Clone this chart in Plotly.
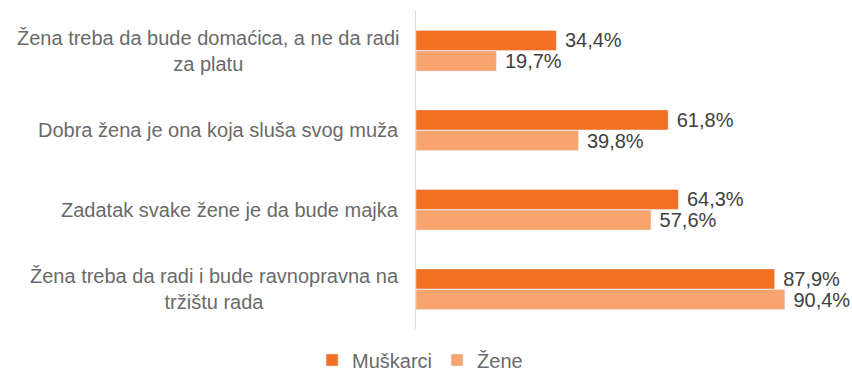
import plotly.graph_objects as go

categories = [
    "Žena treba da bude domaćica, a ne da radi<br>za platu",
    "Dobra žena je ona koja sluša svog muža",
    "Zadatak svake žene je da bude majka",
    "Žena treba da radi i bude ravnopravna na<br>tržištu rada",
]
cat_keys = ["c1", "c2", "c3", "c4"]
muskarci = [34.4, 61.8, 64.3, 87.9]
zene = [19.7, 39.8, 57.6, 90.4]

FONT = "Liberation Sans"
W, H = 852, 372
L, R, T, B = 416, 28, 11, 43

def pct(v):
    return "\u00a0" + f"{v:.1f}%".replace(".", ",")

fig = go.Figure()
fig.add_trace(go.Bar(
    name="Muškarci", y=cat_keys, x=muskarci, orientation="h",
    marker=dict(color="#F36F21"),
    text=[pct(v) for v in muskarci], textposition="outside",
    textfont=dict(family=FONT, size=20, color="#404040"),
    cliponaxis=False, constraintext="none",
))
fig.add_trace(go.Bar(
    name="Žene", y=cat_keys, x=zene, orientation="h",
    marker=dict(color="#F9A46F"),
    text=[pct(v) for v in zene], textposition="outside",
    textfont=dict(family=FONT, size=20, color="#404040"),
    cliponaxis=False, constraintext="none",
))

# category labels, centred within a right-anchored block
for key, label in zip(cat_keys, categories):
    fig.add_annotation(
        x=(401 - L) / (W - L - R), xref="paper", xanchor="right",
        y=key, yref="y", yanchor="middle",
        text=label, showarrow=False, align="center",
        font=dict(family=FONT, size=20, color="#6A6A6A"),
    )

fig.update_layout(
    width=W, height=H,
    margin=dict(l=L, r=R, t=T, b=B),
    paper_bgcolor="white", plot_bgcolor="white",
    barmode="group", bargap=0.48, bargroupgap=0.03,
    showlegend=True,
    legend=dict(
        orientation="h", xref="container", yref="container",
        x=0.493, xanchor="center", y=1 - 360 / H, yanchor="middle",
        font=dict(family=FONT, size=20, color="#6A6A6A"),
        traceorder="normal", itemwidth=30,
    ),
    font=dict(family=FONT),
)
fig.update_xaxes(range=[0, 100], visible=False, showgrid=False, zeroline=False)
fig.update_yaxes(
    autorange="reversed", showticklabels=False, showgrid=False,
    showline=True, linecolor="#D9D9D9", linewidth=1, ticks="",
)

fig.write_html("out.html")
